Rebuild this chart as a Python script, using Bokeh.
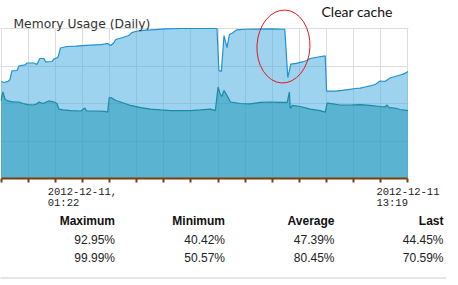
from bokeh.plotting import figure
from bokeh.models import Range1d, FixedTicker, Label, BoxAnnotation
from bokeh.layouts import column
from bokeh.embed import file_html
from bokeh.resources import INLINE
from bokeh.core.properties import value

# ---- data (x = hours since 2012-12-10 22:22, y = memory usage in %) ----
total_hours = [0.00, 0.11, 0.26, 0.33, 0.40, 0.59, 0.66, 0.88, 0.96, 1.21, 1.32, 1.43,
               1.58, 1.65, 1.88, 1.95, 2.10, 2.19, 2.43, 2.76, 3.13, 3.68, 3.93, 4.04,
               4.15, 4.23, 4.49, 4.71, 4.82, 4.96, 5.26, 5.70, 6.07, 6.62, 7.96, 8.03,
               8.12, 8.22, 8.33, 8.42, 8.53, 8.68, 9.01, 9.93, 10.46, 10.57, 10.63, 10.68,
               10.88, 11.10, 11.27, 11.40, 11.69, 11.95, 12.00, 12.32, 12.57, 12.79, 13.05,
               13.24, 13.42, 13.60, 13.79, 13.97, 14.15, 14.34, 14.52, 14.71, 14.85, 15.00]
total_pct = [64.7, 64.0, 64.7, 66.0, 71.7, 72.0, 75.0, 75.7, 77.0, 77.0, 76.0, 80.0,
             80.0, 77.7, 78.0, 79.7, 80.7, 87.0, 88.0, 88.3, 88.7, 89.3, 90.0, 88.7,
             90.3, 92.7, 94.0, 95.3, 97.3, 98.0, 98.7, 99.3, 99.8, 99.99, 99.99, 72.0,
             71.3, 95.3, 87.3, 96.0, 97.0, 99.1, 99.5, 99.7, 99.5, 67.3, 72.0, 76.3,
             76.7, 77.7, 78.7, 80.0, 81.0, 81.7, 58.3, 58.3, 58.7, 59.3, 60.0,
             60.3, 61.0, 61.7, 62.7, 65.0, 64.7, 67.0, 68.0, 69.0, 69.7, 71.3]

used_hours = [0.00, 0.07, 0.15, 0.26, 0.37, 0.51, 0.66, 0.81, 0.99, 1.18, 1.32, 1.40,
              1.54, 1.76, 1.95, 2.06, 2.13, 2.28, 2.57, 2.94, 3.09, 3.16, 3.49, 3.82,
              3.93, 3.99, 4.08, 4.23, 4.41, 4.78, 5.15, 5.51, 5.88, 6.25, 6.99, 7.35,
              7.72, 7.90, 8.00, 8.07, 8.14, 8.22, 8.31, 8.46, 8.82, 9.19, 9.56, 9.93,
              10.29, 10.55, 10.63, 10.66, 10.74, 11.03, 11.40, 11.76, 11.95, 12.02, 12.24,
              12.50, 12.87, 13.24, 13.60, 13.97, 14.15, 14.23, 14.30, 14.52, 14.71, 15.00]
used_pct = [52.0, 57.7, 52.7, 51.7, 51.3, 51.0, 51.0, 50.0, 49.3, 49.0, 49.7, 51.0,
            50.0, 51.7, 51.0, 50.0, 46.3, 45.7, 45.3, 45.0, 47.0, 45.0, 45.0, 44.7,
            44.3, 54.0, 53.7, 52.0, 51.0, 48.7, 47.3, 46.3, 45.7, 45.3, 45.3, 45.7,
            46.3, 45.3, 61.0, 56.7, 54.7, 58.7, 56.0, 51.0, 50.0, 49.7, 50.7, 51.0,
            50.7, 50.7, 57.7, 46.7, 48.7, 48.0, 46.3, 45.3, 44.3, 50.3, 49.7,
            49.0, 49.0, 49.3, 48.7, 48.0, 47.7, 49.0, 47.3, 47.0, 46.0, 45.3]

tick_hours = list(range(16))
tick_labels = {3: "2012-12-11,\n01:22      ", 15: "2012-12-11\n13:19     "}
grid_pct = [25, 50, 75, 100]
time_span = (0, 15)

chart_title = "Memory Usage (Daily)"
note_text = "Clear cache"
note_hours = [10.41]
note_pct = [88.0]

stat_headers = ["Maximum", "Minimum", "Average", "Last"]
stats_used = ["92.95%", "40.42%", "47.39%", "44.45%"]
stats_total = ["99.99%", "50.57%", "80.45%", "70.59%"]

# ---- chart (frame spans the full width; area right of the time span is blanked) ----
p = figure(width=458, height=215, x_range=Range1d(-0.02, 16.863), y_range=Range1d(0, 118.67),
           y_axis_location=None, toolbar_location=None, output_backend="svg",
           min_border_left=0, min_border_right=0, min_border_top=0, min_border_bottom=37)
p.outline_line_color = None
p.background_fill_color = "white"
p.border_fill_color = "white"

p.xgrid.ticker = FixedTicker(ticks=tick_hours)
p.xgrid.bounds = time_span
p.ygrid.ticker = FixedTicker(ticks=grid_pct)
p.grid.grid_line_color = "#DDDDDD"
p.grid.grid_line_width = 1

p.varea(x=total_hours, y1=0, y2=total_pct, fill_color="#45ABDE", fill_alpha=0.53)
p.line(total_hours, total_pct, line_color="#1E93CF", line_width=1.2)
p.varea(x=used_hours, y1=0, y2=used_pct, fill_color="#2399B8", fill_alpha=0.55)
p.line(used_hours, used_pct, line_color="#1A8AA6", line_width=1.2)

p.add_layout(BoxAnnotation(bottom=100.35, fill_color="white", fill_alpha=1.0, line_color=None))
p.add_layout(BoxAnnotation(left=time_span[1] + 0.02, fill_color="white", fill_alpha=1.0,
                           line_color=None))

ell = p.ellipse(x=note_hours, y=note_pct, width=53, height=73, width_units="screen",
                height_units="screen", angle=-0.05, fill_color=None,
                line_color="#E8141B", line_width=1)
ell.level = "overlay"

ax = p.xaxis[0]
ax.bounds = time_span
ax.ticker = FixedTicker(ticks=tick_hours)
ax.major_label_overrides = {t: tick_labels.get(t, "") for t in tick_hours}
ax.axis_line_color = "#7B3F0B"
ax.axis_line_width = 2
ax.major_tick_line_color = "#7B3F0B"
ax.major_tick_line_width = 2
ax.major_tick_in = 0
ax.major_tick_out = 4
ax.minor_tick_line_color = None
ax.major_label_text_font = "Liberation Mono"
ax.major_label_text_font_size = "10.5px"
ax.major_label_text_color = "#222222"
ax.major_label_text_line_height = 0.97
ax.major_label_standoff = 3

title_lbl = Label(x=13, y=154.5, x_units="screen", y_units="screen", text=chart_title,
                  text_font="DejaVu Sans", text_font_size="12.3px", text_color="#333333",
                  text_baseline="alphabetic")
title_lbl.level = "overlay"
p.add_layout(title_lbl)
note_lbl = Label(x=321, y=167.3, x_units="screen", y_units="screen", text=note_text,
                 text_font="Lato", text_font_size="14px", text_color="#111111",
                 text_baseline="alphabetic")
note_lbl.level = "overlay"
p.add_layout(note_lbl)

# ---- statistics table ----
t = figure(width=458, height=70, x_range=Range1d(0, 458), y_range=Range1d(0, 70),
           toolbar_location=None, output_backend="svg", x_axis_location=None,
           y_axis_location=None, min_border=0)
t.outline_line_color = None
t.grid.visible = False
t.background_fill_color = "white"
t.border_fill_color = "white"

col_right = [114.5, 224.5, 334, 443]
t.text(x=col_right, y=[64.5] * 4, text=stat_headers, text_font=value("Liberation Sans"),
       text_font_style="bold", text_font_size="12px", text_align="right",
       text_baseline="alphabetic", text_color="#111111")
t.text(x=col_right, y=[46] * 4, text=stats_used, text_font=value("Liberation Sans"),
       text_font_size="12px", text_align="right", text_baseline="alphabetic",
       text_color="#222222")
t.text(x=col_right, y=[27.2] * 4, text=stats_total, text_font=value("Liberation Sans"),
       text_font_size="12px", text_align="right", text_baseline="alphabetic",
       text_color="#222222")
t.line(x=[0, 446], y=[7.5, 7.5], line_dash="1 1", line_color="#999999", line_width=1)

layout = column(p, t)
open("out.html", "w").write(file_html(layout, INLINE))
